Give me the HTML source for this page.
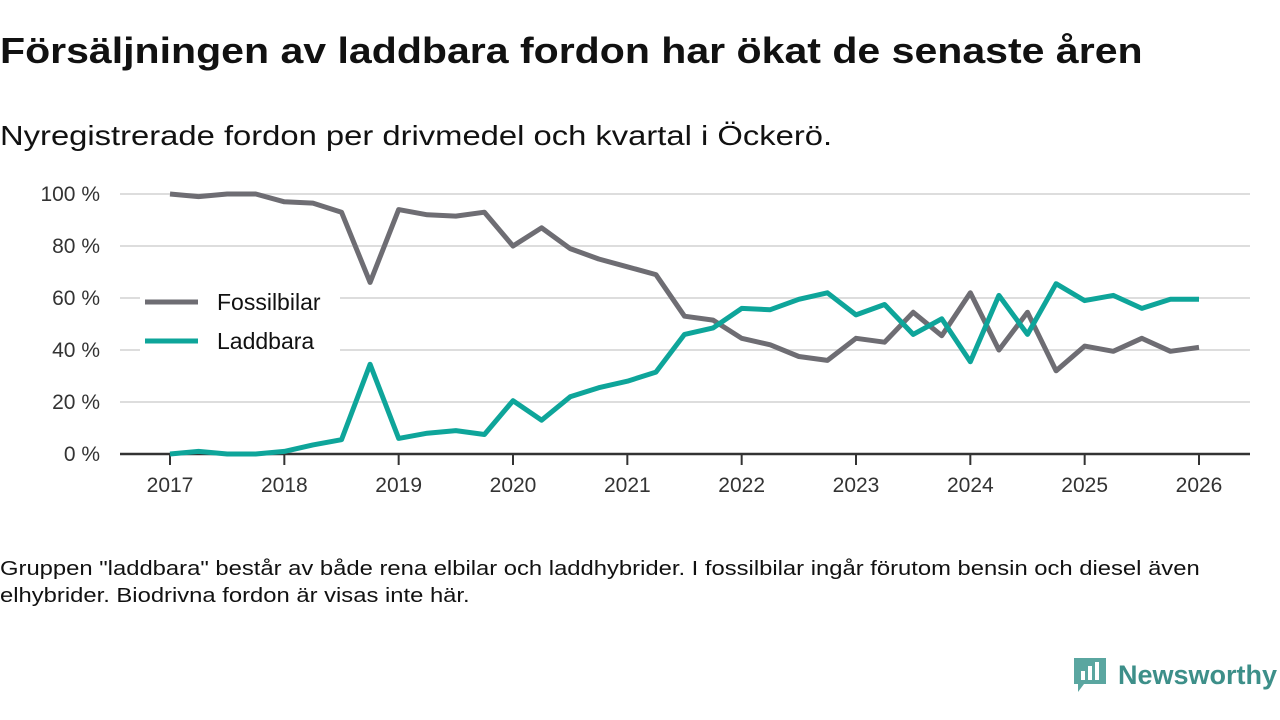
<!DOCTYPE html>
<html><head><meta charset="utf-8"><style>
body{margin:0;width:1280px;height:720px;background:#fff;font-family:"Liberation Sans",sans-serif;color:#111;position:relative;overflow:hidden}
.t{position:absolute;left:0;top:30px;font-size:36px;font-weight:bold;transform:scaleX(1.14);transform-origin:0 0;white-space:nowrap}
.s{position:absolute;left:0;top:120px;font-size:28px;transform:scaleX(1.17);transform-origin:0 0;white-space:nowrap}
.f{position:absolute;left:0;top:556px;width:1040px;font-size:20px;line-height:27px;transform:scaleX(1.19);transform-origin:0 0}
</style></head><body>
<div class="t">Försäljningen av laddbara fordon har ökat de senaste åren</div>
<div class="s">Nyregistrerade fordon per drivmedel och kvartal i Öckerö.</div>
<svg id="c" width="1280" height="720" style="position:absolute;left:0;top:0"></svg>
<div class="f">Gruppen "laddbara" består av både rena elbilar och laddhybrider. I fossilbilar ingår förutom bensin och diesel även elhybrider. Biodrivna fordon är visas inte här.</div>
<div style="position:absolute;left:1072px;top:656px;display:flex;align-items:center">
<svg width="36" height="38"><path d="M2 2h32v26H12l-6 8v-8H2z" fill="#5aa6a0"/><rect x="9" y="15" width="4" height="9" fill="#fff"/><rect x="16" y="10" width="4" height="14" fill="#fff"/><rect x="23" y="6" width="4" height="18" fill="#fff"/></svg>
<span style="font-size:27px;font-weight:bold;color:#3d8f89;margin-left:10px">Newsworthy</span></div>
<script>
const years=[2017,2018,2019,2020,2021,2022,2023,2024,2025,2026];
const yTicks=[0,20,40,60,80,100];
const fossil=[100,99,100,100,97,96.5,93,66,94,92,91.5,93,80,87,79,75,72,69,53,51.5,44.5,42,37.5,36,44.5,43,54.5,45.5,62,40,54.5,32,41.5,39.5,44.5,39.5,41];
const laddbara=[0,1,0,0,1,3.5,5.5,34.5,6,8,9,7.5,20.5,13,22,25.5,28,31.5,46,48.5,56,55.5,59.5,62,53.5,57.5,46,52,35.5,61,46,65.5,59,61,56,59.5,59.5];
const svg=document.getElementById('c');const NS='http://www.w3.org/2000/svg';
const x=t=>170+(t-2017)*(1199-170)/9;
const y=v=>454-v*2.6;
function mk(tag,a){const e=document.createElementNS(NS,tag);for(const k in a)e.setAttribute(k,a[k]);svg.appendChild(e);return e;}
yTicks.forEach(v=>{
const g=mk('line',{x1:120,x2:1250,y1:y(v),y2:y(v),stroke:v?'#ddd':'#333','stroke-width':v?2:2.5});


const t=mk('text',{x:100,y:y(v)+7,'text-anchor':'end','font-size':21,fill:'#333'});t.textContent=v+' %';


});
years.forEach(yr=>{
const l=mk('line',{x1:x(yr),x2:x(yr),y1:455,y2:465,stroke:'#333','stroke-width':2});


const t=mk('text',{x:x(yr),y:492,'text-anchor':'middle','font-size':21,fill:'#333'});t.textContent=yr;


});
function line(d,col,name){const p=mk('polyline',{points:d.map((v,i)=>x(2017+i/4)+','+y(v)).join(' '),fill:'none',stroke:col,'stroke-width':5,'stroke-linejoin':'round'});

}
mk('rect',{x:140,y:285,width:200,height:70,fill:'#fff'});
line(fossil,'#6e6d73','fossilbilar-line');
line(laddbara,'#0ea59a','laddbara-line');
mk('rect',{x:140,y:290,width:40,height:60,fill:'#fff'});
[['Fossilbilar','#6e6d73',302],['Laddbara','#0ea59a',341]].forEach(([n,c,yy])=>{
const l=mk('line',{x1:145,x2:198,y1:yy,y2:yy,stroke:c,'stroke-width':5});


const t=mk('text',{x:217,y:yy+8,'font-size':23,fill:'#111'});t.textContent=n;


});
</script>
</body></html>
